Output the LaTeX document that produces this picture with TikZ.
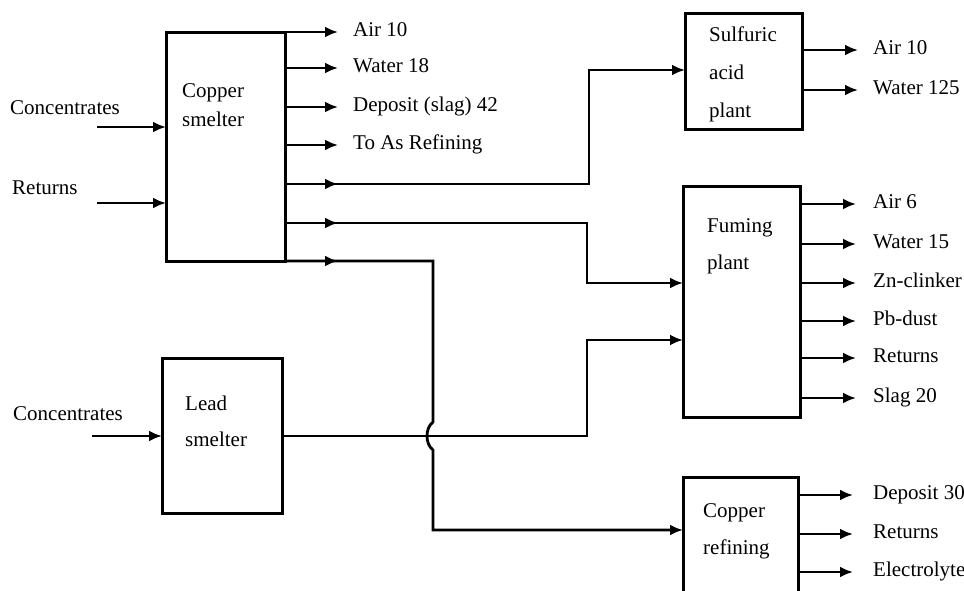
\documentclass[tikz,border=0pt]{standalone}
\usepackage{fontspec}
\setmainfont{Liberation Serif}
\usetikzlibrary{arrows.meta,positioning,calc,decorations.markings}

\begin{document}
\begin{tikzpicture}[x=1pt, y=-1pt,
    box/.style={rectangle, draw=black, line width=3pt, inner sep=0pt, outer sep=0pt},
    boxlbl/.style={anchor=west, align=left, inner sep=0pt, font=\fontsize{21}{37}\selectfont},
    lbl/.style={anchor=west, inner sep=0pt, text height=14pt, text depth=4.5pt, font=\fontsize{21}{25}\selectfont},
    arr/.style={-{Latex[length=13pt,width=11pt]}, line width=2.8pt},
    midarr/.style={postaction={decorate}, decoration={markings,
                   mark=at position 53pt with {\arrow{Latex[length=13pt,width=11pt]}}}}
]
\useasboundingbox (0,0) rectangle (964,590);

% plants
\node[box, minimum width=119pt, minimum height=229pt] (cusmelter)   at (225.5,146.5) {};
\node[box, minimum width=117pt, minimum height=116pt] (sulfacid)    at (743.5,71)    {};
\node[box, minimum width=117pt, minimum height=231pt] (fuming)      at (741.5,301.5) {};
\node[box, minimum width=120pt, minimum height=155pt] (leadsmelter) at (222,435.5)   {};
\node[box, minimum width=115pt, minimum height=163pt] (curefining)  at (740.5,558.5) {};

\node[boxlbl, font=\fontsize{21}{29}\selectfont] (cusmelterlbl) at (182,105.5) {Copper\\smelter};
\node[boxlbl, font=\fontsize{21}{38}\selectfont] (sulfacidlbl)  at (709,74)    {Sulfuric\\acid\\plant};
\node[boxlbl]                                    (fuminglbl)    at (707,246.5) {Fuming\\plant};
\node[boxlbl, font=\fontsize{21}{36}\selectfont] (leadlbl)      at (185,421)   {Lead\\smelter};
\node[boxlbl]                                    (curefinlbl)   at (703,531.5) {Copper\\refining};

% inputs
\node[lbl] (concA)   at (10,110) {Concentrates};
\node[lbl] (returnA) at (12,190) {Returns};
\node[lbl] (concB)   at (13,416) {Concentrates};
\coordinate (concAin)   at (97,127);
\coordinate (returnAin) at (97,203);
\coordinate (concBin)   at (92,436);
\draw[arr] (concAin)   -- (concAin -| cusmelter.west);
\draw[arr] (returnAin) -- (returnAin -| cusmelter.west);
\draw[arr] (concBin)   -- (concBin -| leadsmelter.west);

% copper smelter outputs
\node[lbl] (cuair)   at (353,32)  {Air 10};
\node[lbl] (cuwater) at (353,68)  {Water 18};
\node[lbl] (cuslag)  at (353,107) {Deposit (slag) 42};
\node[lbl] (cuas)    at (353,145) {To As Refining};
\draw[arr] (cusmelter.north east)     -- ([xshift=-15pt]cuair.west);
\draw[arr] (cusmelter.east |- cuwater) -- ([xshift=-15pt]cuwater.west);
\draw[arr] (cusmelter.east |- cuslag)  -- ([xshift=-15pt]cuslag.west);
\draw[arr] (cusmelter.east |- cuas)    -- ([xshift=-15pt]cuas.west);

% sulfuric acid plant outputs
\node[lbl] (saair)   at (873,50) {Air 10};
\node[lbl] (sawater) at (873,90) {Water 125};
\draw[arr] (sulfacid.east |- saair)   -- ([xshift=-15pt]saair.west);
\draw[arr] (sulfacid.east |- sawater) -- ([xshift=-15pt]sawater.west);

% fuming plant outputs
\node[lbl] (fuair)     at (873,204) {Air 6};
\node[lbl] (fuwater)   at (873,244) {Water 15};
\node[lbl] (fuzinc)    at (873,283) {Zn-clinker};
\node[lbl] (fulead)    at (873,321) {Pb-dust};
\node[lbl] (fureturns) at (873,358) {Returns};
\node[lbl] (fuslag)    at (873,398) {Slag 20};
\draw[arr] (fuming.east |- fuair)     -- ([xshift=-17pt]fuair.west);
\draw[arr] (fuming.east |- fuwater)   -- ([xshift=-17pt]fuwater.west);
\draw[arr] (fuming.east |- fuzinc)    -- ([xshift=-17pt]fuzinc.west);
\draw[arr] (fuming.east |- fulead)    -- ([xshift=-17pt]fulead.west);
\draw[arr] (fuming.east |- fureturns) -- ([xshift=-17pt]fureturns.west);
\draw[arr] (fuming.east |- fuslag)    -- ([xshift=-17pt]fuslag.west);

% copper refining outputs
\node[lbl] (crdeposit) at (873,495) {Deposit 30};
\node[lbl] (crreturns) at (873,534) {Returns};
\node[lbl] (crelectro) at (873,572) {Electrolyte};
\draw[arr] (curefining.east |- crdeposit) -- ([xshift=-20pt]crdeposit.west);
\draw[arr] (curefining.east |- crreturns) -- ([xshift=-20pt]crreturns.west);
\draw[arr] (curefining.east |- crelectro) -- ([xshift=-20pt]crelectro.west);

% flows between plants
\draw[arr, midarr] (cusmelter.east |- 0,184) -- (589,184) -- (589,70) -- (sulfacid.west |- 0,70);
\draw[arr, midarr] (cusmelter.east |- 0,223) -- (587,223) -- (587,283) -- (fuming.west |- 0,283);
\draw[arr, midarr] (cusmelter.south east) -- (433,261) -- (433,422)
    .. controls (425,428) and (425,444) .. (433,450) -- (433,530) -- (curefining.west |- 0,530);
\draw[arr] (leadsmelter.east |- 0,436) -- (587,436) -- (587,340) -- (fuming.west |- 0,340);
\end{tikzpicture}
\end{document}
